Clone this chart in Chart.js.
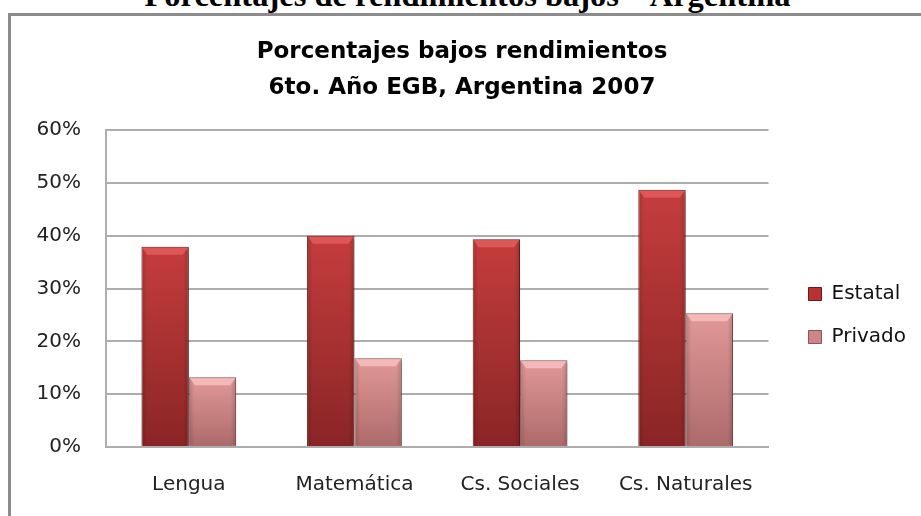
<!DOCTYPE html>
<html>
<head>
<meta charset="utf-8">
<script src="https://cdn.jsdelivr.net/npm/chart.js@4.4.1/dist/chart.umd.min.js"></script>
<style>
    html, body { margin: 0; padding: 0; background: #fff; width: 921px; height: 516px; overflow: hidden; }
    #heading {
        position: absolute; left: 0; top: -21px; width: 935px;
        text-align: center; white-space: nowrap; color: #000;
        font: bold 32.5px "Liberation Serif", serif; line-height: 32px;
    }
    #frame {
        position: absolute; left: 8px; top: 13px; width: 1000px; height: 600px;
        border: 3px solid #8c8c8c; box-sizing: border-box;
    }
    #chart { position: absolute; left: 0; top: 0; }
</style>
</head>
<body>
<div id="heading">Porcentajes de rendimientos bajos – Argentina</div>
<div id="frame"></div>
<canvas id="chart" width="921" height="516"></canvas>

<script>
// ─── Data ─────────────────────────────────────────────────
const categories  = ['Lengua', 'Matemática', 'Cs. Sociales', 'Cs. Naturales'];
const estatal     = [37.9, 40.0, 39.3, 48.7];
const privado     = [13.2, 16.8, 16.4, 25.3];
const yTicks      = [0, 10, 20, 30, 40, 50, 60];
const seriesNames = ['Estatal', 'Privado'];
const titleLines  = ['Porcentajes bajos rendimientos', '6to. Año EGB, Argentina 2007'];

// ─── Style ────────────────────────────────────────────────
const FONT = '"DejaVu Sans", "Open Sans", sans-serif';
const TXT  = '#222';
const GRID = '#adadad';

const look = [
    { top: '#c53d3d', bottom: '#8a2525', border: '#6b1a1a', bevel: '#de5656', legend: '#b83232' },
    { top: '#e19898', bottom: '#ad6a6a', border: '#8c5555', bevel: '#f3b9b9', legend: '#cf8585' },
];

// vertical gradient per bar, using the y scale
function barFill(st) {
    return function (c) {
        const ys = c.chart.scales.y;
        if (!ys || c.raw == null) return st.top;
        const py = ys.getPixelForValue(c.raw);
        const pb = ys.getPixelForValue(0);
        const g = c.chart.ctx.createLinearGradient(0, py, 0, pb);
        g.addColorStop(0, st.top);
        g.addColorStop(1, st.bottom);
        return g;
    };
}

// soft shadow behind the bars + bevel on top (Excel 2007 look)
const bevelPlugin = {
    id: 'bevel',
    beforeDatasetDraw(chart) {
        const ctx = chart.ctx;
        ctx.save();
        ctx.shadowColor = 'rgba(0,0,0,0.30)';
        ctx.shadowOffsetX = 3;
        ctx.shadowOffsetY = 2;
        ctx.shadowBlur = 4;
    },
    afterDatasetDraw(chart) {
        chart.ctx.restore();
    },
    afterDatasetsDraw(chart) {
        const ctx = chart.ctx;
        chart.data.datasets.forEach((ds, di) => {
            const st = look[di];
            chart.getDatasetMeta(di).data.forEach(bar => {
                const { x, y, width, base } = bar.getProps(['x', 'y', 'width', 'base'], true);
                const l = x - width / 2, r = x + width / 2;
                const h = Math.min(8, (base - y) / 2);
                // side shading
                const sg = ctx.createLinearGradient(l, 0, r, 0);
                sg.addColorStop(0, 'rgba(0,0,0,0.16)');
                sg.addColorStop(0.12, 'rgba(0,0,0,0)');
                sg.addColorStop(0.88, 'rgba(0,0,0,0)');
                sg.addColorStop(1, 'rgba(0,0,0,0.16)');
                ctx.fillStyle = sg;
                ctx.fillRect(l + 1, y + 1, width - 2, base - y - 2);
                // top bevel
                ctx.beginPath();
                ctx.moveTo(l + 1, y + 1);
                ctx.lineTo(r - 1, y + 1);
                ctx.lineTo(r - 6, y + h);
                ctx.lineTo(l + 6, y + h);
                ctx.closePath();
                ctx.fillStyle = st.bevel;
                ctx.fill();
            });
        });
    }
};

const ctx = document.getElementById('chart').getContext('2d');

new Chart(ctx, {
    type: 'bar',
    data: {
        labels: categories,
        datasets: [
            {
                label: seriesNames[0],
                data: estatal,
                backgroundColor: barFill(look[0]),
                borderColor: look[0].border,
                borderWidth: 1,
                categoryPercentage: 0.572,
                barPercentage: 1.0,
            },
            {
                label: seriesNames[1],
                data: privado,
                backgroundColor: barFill(look[1]),
                borderColor: look[1].border,
                borderWidth: 1,
                categoryPercentage: 0.572,
                barPercentage: 1.0,
            }
        ]
    },
    options: {
        responsive: false,
        animation: false,
        devicePixelRatio: 1,
        layout: { padding: { left: 8, right: 5, top: 0, bottom: 0 } },
        plugins: {
            tooltip: { enabled: false },
            title: {
                display: true,
                text: titleLines,
                color: '#000',
                font: { family: FONT, size: 23, weight: 'bold', lineHeight: 36 / 23 },
                padding: { top: 34, bottom: 24 },
            },
            legend: {
                position: 'right',
                // empty title only pushes the two items down
                title: { display: true, text: ' ', font: { size: 10, lineHeight: 1 }, padding: { top: 105, bottom: 0 } },
                labels: {
                    boxWidth: 13, boxHeight: 13, padding: 23,
                    color: '#111',
                    font: { family: FONT, size: 20 },
                    generateLabels: (chart) => chart.data.datasets.map((ds, i) => ({
                        text: ds.label,
                        fillStyle: look[i].legend,
                        strokeStyle: look[i].border,
                        fontColor: '#111',
                        lineWidth: 1,
                        datasetIndex: i,
                        hidden: false,
                    })),
                },
            },
        },
        scales: {
            x: {
                afterFit: (s) => { s.height = 69; },
                grid: { display: false, drawTicks: false },
                border: { display: true, color: GRID, width: 2 },
                ticks: { color: TXT, font: { family: FONT, size: 20 }, padding: 26, maxRotation: 0 },
            },
            y: {
                min: 0, max: 60,
                afterBuildTicks: (s) => { s.ticks = yTicks.map(v => ({ value: v })); },
                afterFit: (s) => { s.width = 98; },
                grid: { color: GRID, lineWidth: 2, drawTicks: false },
                border: { display: true, color: GRID, width: 2 },
                ticks: { color: TXT, font: { family: FONT, size: 20 }, padding: 25, callback: v => v + '%' },
            },
            gap: {
                type: 'linear', axis: 'y', position: 'right',
                grid: { display: false }, border: { display: false },
                ticks: { display: false },
                afterFit: (s) => { s.width = 17; },
            }
        }
    },
    plugins: [bevelPlugin]
});
</script>
</body>
</html>
